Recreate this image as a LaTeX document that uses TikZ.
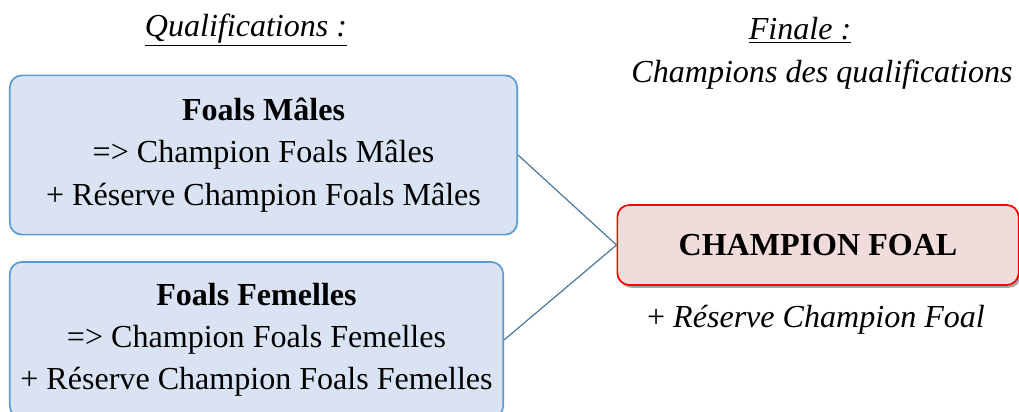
\documentclass[tikz,border=0pt]{standalone}
\usepackage{fontspec}
\setmainfont{Liberation Serif}
\usetikzlibrary{shadows}
\definecolor{qualfill}{HTML}{DAE3F3}
\definecolor{qualdraw}{HTML}{5B9BD5}
\definecolor{finfill}{HTML}{F2DCDB}
\definecolor{linkcol}{HTML}{41719C}

\begin{document}
\begin{tikzpicture}[x=0.025cm,y=-0.025cm]
\useasboundingbox (0,0) rectangle (1019,412);

\begin{scope}[every node/.style={rectangle,rounded corners=0.3cm,draw=qualdraw,fill=qualfill,line width=1.2pt,align=center,inner sep=0pt,font=\fontsize{22.8}{30}\selectfont}]
	%Qualifications
	\node (M) at (263.5, 155) [minimum width=12.68cm, minimum height=3.98cm] {\textbf{Foals Mâles}\\=> Champion Foals Mâles\\+ Réserve Champion Foals Mâles};
	
	\node (F) at (256.5, 340) [minimum width=12.33cm, minimum height=3.9cm] {\textbf{Foals Femelles}\\=> Champion Foals Femelles\\+ Réserve Champion Foals Femelles};
\end{scope}

\begin{scope}[every node/.style={rectangle,rounded corners=0.3cm,draw=red,fill=finfill,line width=1.2pt,align=center,inner sep=0pt,font=\fontsize{22.8}{30}\selectfont,drop shadow={shadow xshift=1.5pt,shadow yshift=-2pt,opacity=0.35,fill=black}}]
	%Finale
	\node (C) at (818, 245) [minimum width=10.03cm, minimum height=2cm] {\textbf{CHAMPION FOAL}};
\end{scope}

\begin{scope}[every node/.style={align=center,inner sep=0pt,font=\fontsize{22.8}{30}\selectfont\itshape}]
	%Titles
	\node (tq) at (246, 30) {\underline{Qualifications :}};
	\node (tf) at (800, 30) {\underline{Finale :}};
	\node (tc) at (822, 75) {Champions des qualifications};
	
	\node (res) at (816, 320) {\upshape +\itshape{} Réserve Champion Foal};
\end{scope}

\begin{scope}[style={draw=linkcol,line width=0.8pt}]
	\path [-] (M.east) edge node {} (C.west);
	\path [-] (F.east) edge node {} (C.west);
\end{scope}
\end{tikzpicture}
\end{document}
